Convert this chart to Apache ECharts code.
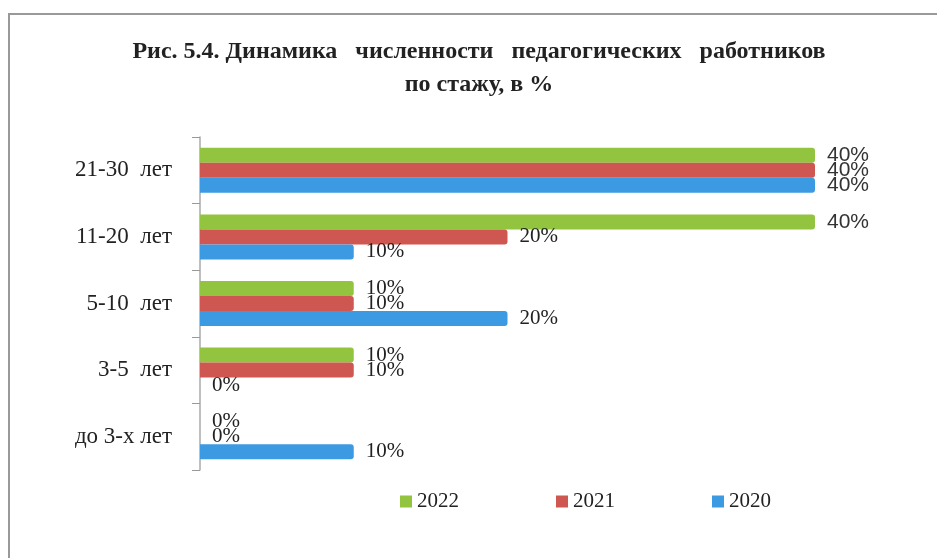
<!DOCTYPE html>
<html>
<head>
<meta charset="utf-8">
<script src="https://cdn.jsdelivr.net/npm/echarts@6/dist/echarts.min.js"></script>
<style>
  html, body { margin: 0; padding: 0; background: #fff; }
  #chart { width: 937px; height: 558px; }
</style>
</head>
<body>
<div id="chart"></div>
<script>
// categories bottom -> top
const categories = ['до 3-х лет', '3-5  лет', '5-10  лет', '11-20  лет', '21-30  лет'];
const years = ['2022', '2021', '2020'];
const values2022 = [0, 10, 10, 40, 40];
const values2021 = [0, 10, 10, 20, 40];
const values2020 = [10, 0, 20, 10, 40];
const colors = ['#93c43f', '#cf5751', '#3c9ae2'];

const serif = '"Liberation Serif", "DejaVu Serif", serif';
const sans = '"Liberation Sans", "DejaVu Sans", sans-serif';

const makeData = (vals) => vals.map(v => v === 40
  ? { value: v, label: { fontFamily: sans, color: '#333' } }
  : v);

const chart = echarts.init(document.getElementById('chart'));

chart.setOption({
  animation: false,
  title: {
    text: 'Рис. 5.4. Динамика   численности   педагогических   работников\nпо стажу, в %',
    left: 474,
    textAlign: 'center',
    top: 30,
    textStyle: {
      fontFamily: serif,
      fontWeight: 'bold',
      fontSize: 24,
      lineHeight: 33,
      color: '#222'
    }
  },
  legend: {
    data: years,
    left: 395,
    top: 486,
    icon: 'rect',
    itemWidth: 12,
    itemHeight: 12,
    itemGap: 97,
    textStyle: { fontFamily: serif, fontSize: 21, color: '#222' }
  },
  grid: { left: 200, right: 122, top: 137, bottom: 88 },
  xAxis: {
    type: 'value',
    min: 0,
    max: 40,
    show: false
  },
  yAxis: {
    type: 'category',
    data: categories,
    axisLine: { show: true, lineStyle: { color: '#aaa', width: 1.5 } },
    axisTick: { show: true, length: 8, lineStyle: { color: '#999' } },
    axisLabel: {
      margin: 28,
      fontFamily: serif,
      fontSize: 23,
      color: '#222'
    }
  },
  series: [values2022, values2021, values2020].map((vals, i) => ({
    name: years[i],
    type: 'bar',
    data: makeData(vals),
    barWidth: 15,
    barGap: '0%',
    itemStyle: {
      color: colors[i],
      borderRadius: [0, 3, 3, 0]
    },
    label: {
      show: true,
      position: 'right',
      distance: 12,
      formatter: '{c}%',
      fontFamily: serif,
      fontSize: 21,
      color: '#222'
    }
  })),
  graphic: [
    {
      type: 'polyline',
      shape: { points: [[9, 558], [9, 14], [937, 14]] },
      style: { stroke: '#999', lineWidth: 2, fill: null }
    }
  ]
});
</script>
</body>
</html>
